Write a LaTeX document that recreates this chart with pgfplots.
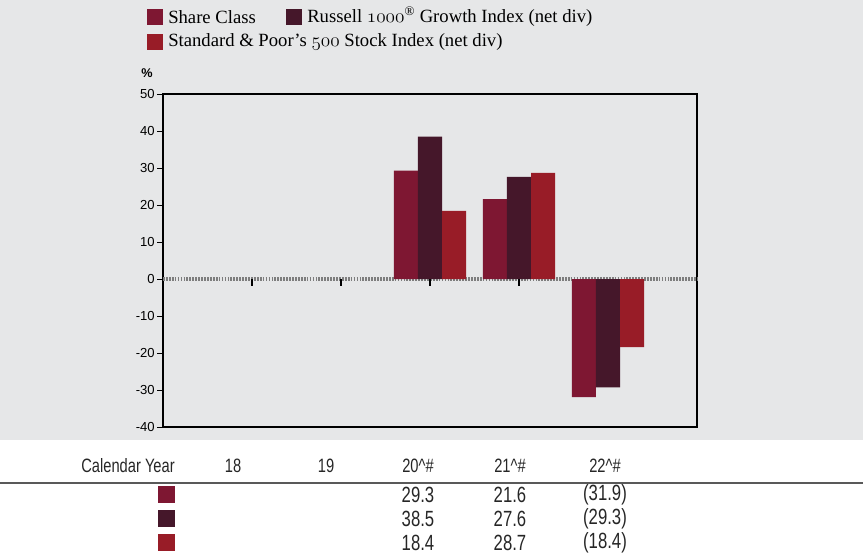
\documentclass[border=0pt]{standalone}
\usepackage{pgfplots}
\pgfplotsset{compat=1.18}
\usepackage{fontspec}
\setmainfont{Liberation Serif}
\newfontfamily\tickfont{Liberation Sans}
\newfontfamily\tabfont[FakeStretch=0.76]{Liberation Sans}
\definecolor{bg}{RGB}{230,231,232}
\definecolor{shareC}{RGB}{126,23,50}
\definecolor{russ}{RGB}{69,23,42}
\definecolor{spx}{RGB}{152,28,39}
\definecolor{zl}{RGB}{125,125,125}
\newcommand\osn[1]{{\fontencoding{OML}\fontfamily{cmm}\fontshape{it}\selectfont #1}}
\begin{document}
\begin{tikzpicture}[x=0.75pt,y=0.75pt]
\useasboundingbox (0,0) rectangle (863,554);
\fill[bg] (0,114) rectangle (863,554);
% legend
\fill[shareC] (147,529) rectangle (163,545);
\node[anchor=west,inner sep=0pt,font=\fontsize{14}{16}\selectfont] at (168,537) {Share Class};
\fill[russ] (286,529) rectangle (302,545);
\node[anchor=west,inner sep=0pt,font=\fontsize{14}{16}\selectfont] at (307,537) {Russell {\fontsize{15}{16}\selectfont\osn{1000}}\textsuperscript{\textregistered} Growth Index (net div)};
\fill[spx] (147,504) rectangle (163,520);
\node[anchor=west,inner sep=0pt,font=\fontsize{14}{16}\selectfont] at (168,512) {Standard \& Poor’s {\fontsize{15}{16}\selectfont\osn{500}} Stock Index (net div)};
\node[font=\tickfont\bfseries\fontsize{9.5}{10}\selectfont,inner sep=0pt] at (147,481) {\%};
\begin{axis}[
  at={(122.25pt,95.25pt)}, anchor=south west,
  scale only axis, width=400.5pt, height=249.75pt,
  xmin=-1, xmax=5, ymin=-40, ymax=50,
  xtick=\empty,
  ytick={-40,-30,-20,-10,0,10,20,30,40,50},
  yticklabels={-40,-30,-20,-10,0,10,20,30,40,50},
  ytick pos=left, tick align=outside,
  major tick length=4.5pt,
  tick style={black, line width=0.7pt},
  axis line style={black, line width=1.1pt},
  yticklabel style={font=\tickfont\fontsize{9.8}{11}\selectfont, inner sep=1.5pt},
  axis background/.style={fill=bg},
  clip=false,
]
\draw[zl, line width=2.4pt, dash pattern=on 1.3pt off 0.9pt] (axis cs:-1,0) -- (axis cs:5,0);
\pgfplotsinvokeforeach{0,1,2,3,4}{\draw[black, line width=0.9pt] (axis cs:#1,0) -- ++(0pt,-5.5pt);}
\addplot[ybar, bar width=0.27, bar shift=-0.27, fill=shareC, draw=none] coordinates {(2,29.3) (3,21.6) (4,-31.9)};
\addplot[ybar, bar width=0.27, bar shift=0, fill=russ, draw=none] coordinates {(2,38.5) (3,27.6) (4,-29.3)};
\addplot[ybar, bar width=0.27, bar shift=0.27, fill=spx, draw=none] coordinates {(2,18.4) (3,28.7) (4,-18.4)};
\end{axis}
% table
\begin{scope}[every node/.style={inner sep=0pt, font=\tabfont\fontsize{16.5}{18}\selectfont, text=black!85}]
\begin{scope}[every node/.style={inner sep=0pt, font=\tabfont\fontsize{14.5}{16}\selectfont, text=black!85}]
\node[anchor=east] at (175,88) {Calendar Year};
\node at (233,88) {18};
\node at (326,88) {19};
\node at (418,88) {20\^{}\#};
\node at (510,88) {21\^{}\#};
\node at (605,88) {22\^{}\#};
\end{scope}
\draw[black!65, line width=1.5pt] (0,71) -- (863,71);
\fill[shareC] (158,51) rectangle (175,68);
\fill[russ] (158,27) rectangle (175,44);
\fill[spx] (158,3) rectangle (175,20);
\node at (418,59) {29.3}; \node at (510,59) {21.6}; \node at (605,59) {(31.9)};
\node at (418,35) {38.5}; \node at (510,35) {27.6}; \node at (605,35) {(29.3)};
\node at (418,11) {18.4}; \node at (510,11) {28.7}; \node at (605,11) {(18.4)};
\end{scope}
\end{tikzpicture}
\end{document}
